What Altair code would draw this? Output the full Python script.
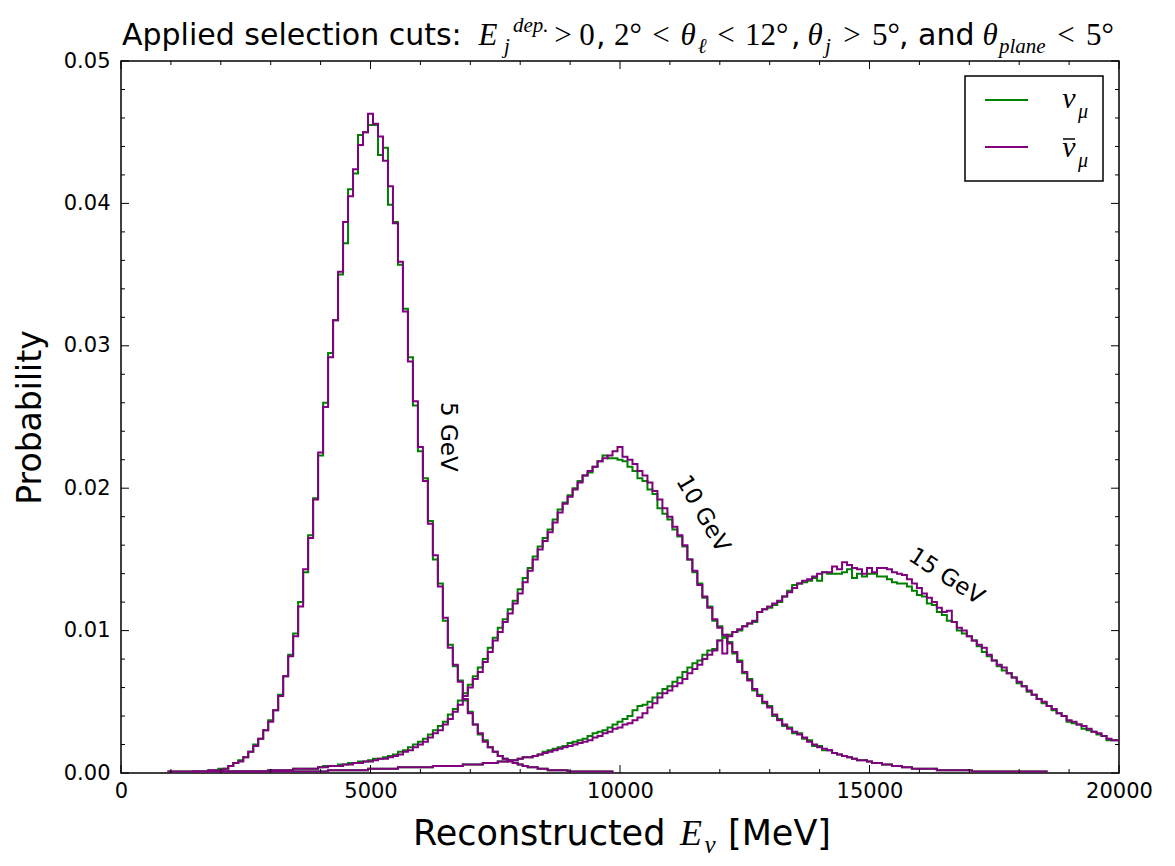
import altair as alt
import pandas as pd

# ---------------- data ----------------
BIN_WIDTH = 100.0          # MeV; bins are centred on multiples of 100 MeV
X_MAX = 20000.0
Y_MAX = 0.05

x_major = [0, 5000, 10000, 15000, 20000]
x_minor = [1000, 2000, 3000, 4000, 6000, 7000, 8000, 9000, 11000, 12000, 13000, 14000,
           16000, 17000, 18000, 19000]
y_major = [0.0, 0.01, 0.02, 0.03, 0.04, 0.05]
y_minor = [0.002, 0.004, 0.006, 0.008, 0.012, 0.014, 0.016, 0.018, 0.022, 0.024, 0.026, 0.028,
           0.032, 0.034, 0.036, 0.038, 0.042, 0.044, 0.046, 0.048]

# 5 GeV sample: first bin centred at 1500 MeV
e5_first_bin = 15
e5_numu = [
    0.0001, 0.0001, 0.0001, 0.0002, 0.0002, 0.0003, 0.0003, 0.0005, 0.0007, 0.0009,
    0.0011, 0.0015, 0.0020, 0.0024, 0.0030, 0.0037, 0.0044, 0.0055, 0.0068, 0.0083,
    0.0098, 0.0120, 0.0141, 0.0167, 0.0193, 0.0223, 0.0260, 0.0295, 0.0318, 0.0350,
    0.0372, 0.0410, 0.0421, 0.0448, 0.0450, 0.0455, 0.0455, 0.0434, 0.0439, 0.0399,
    0.0387, 0.0357, 0.0326, 0.0292, 0.0258, 0.0226, 0.0207, 0.0177, 0.0150, 0.0133,
    0.0107, 0.0090, 0.0075, 0.0065, 0.0051, 0.0043, 0.0034, 0.0027, 0.0023, 0.0018,
    0.0015, 0.0012, 0.0010, 0.0009, 0.0007, 0.0006, 0.0005, 0.0004, 0.0004, 0.0003,
    0.0003, 0.0002, 0.0002, 0.0002, 0.0002, 0.0001, 0.0001, 0.0001, 0.0001, 0.0001,
    0.0001, 0.0001, 0.0001, 0.0001]
e5_numubar = [
    0.0001, 0.0001, 0.0001, 0.0002, 0.0002, 0.0002, 0.0003, 0.0005, 0.0007, 0.0008,
    0.0011, 0.0015, 0.0019, 0.0024, 0.0030, 0.0036, 0.0044, 0.0054, 0.0068, 0.0082,
    0.0096, 0.0117, 0.0143, 0.0165, 0.0192, 0.0225, 0.0257, 0.0292, 0.0318, 0.0352,
    0.0387, 0.0405, 0.0424, 0.0441, 0.0450, 0.0463, 0.0456, 0.0447, 0.0430, 0.0412,
    0.0386, 0.0359, 0.0324, 0.0289, 0.0261, 0.0229, 0.0205, 0.0175, 0.0153, 0.0131,
    0.0109, 0.0088, 0.0076, 0.0064, 0.0052, 0.0042, 0.0034, 0.0028, 0.0022, 0.0018,
    0.0015, 0.0012, 0.0010, 0.0008, 0.0007, 0.0006, 0.0005, 0.0004, 0.0004, 0.0003,
    0.0003, 0.0002, 0.0002, 0.0002, 0.0002, 0.0001, 0.0001, 0.0001, 0.0001, 0.0001,
    0.0001, 0.0001, 0.0001, 0.0001]

# 10 GeV sample: first bin centred at 1000 MeV
e10_first_bin = 10
e10_numu = [
    0.0001, 0.0001, 0.0001, 0.0001, 0.0001, 0.0001, 0.0001, 0.0001, 0.0001, 0.0001,
    0.0001, 0.0001, 0.0001, 0.0001, 0.0001, 0.0001, 0.0001, 0.0001, 0.0001, 0.0001,
    0.0002, 0.0002, 0.0002, 0.0002, 0.0002, 0.0003, 0.0003, 0.0003, 0.0003, 0.0003,
    0.0004, 0.0005, 0.0005, 0.0005, 0.0006, 0.0006, 0.0007, 0.0007, 0.0008, 0.0008,
    0.0009, 0.0010, 0.0010, 0.0011, 0.0012, 0.0013, 0.0015, 0.0016, 0.0018, 0.0020,
    0.0022, 0.0024, 0.0027, 0.0030, 0.0033, 0.0036, 0.0041, 0.0045, 0.0051, 0.0056,
    0.0062, 0.0068, 0.0074, 0.0080, 0.0088, 0.0095, 0.0102, 0.0108, 0.0115, 0.0121,
    0.0129, 0.0137, 0.0144, 0.0152, 0.0159, 0.0165, 0.0171, 0.0178, 0.0185, 0.0190,
    0.0195, 0.0200, 0.0205, 0.0209, 0.0211, 0.0215, 0.0219, 0.0223, 0.0221, 0.0221,
    0.0220, 0.0219, 0.0215, 0.0212, 0.0207, 0.0205, 0.0199, 0.0196, 0.0186, 0.0182,
    0.0178, 0.0171, 0.0166, 0.0159, 0.0150, 0.0141, 0.0133, 0.0123, 0.0117, 0.0107,
    0.0103, 0.0096, 0.0092, 0.0084, 0.0079, 0.0070, 0.0066, 0.0058, 0.0055, 0.0049,
    0.0047, 0.0040, 0.0038, 0.0033, 0.0032, 0.0028, 0.0028, 0.0024, 0.0023, 0.0019,
    0.0019, 0.0016, 0.0016, 0.0014, 0.0013, 0.0012, 0.0011, 0.0010, 0.0009, 0.0009,
    0.0008, 0.0007, 0.0007, 0.0006, 0.0006, 0.0005, 0.0005, 0.0004, 0.0004, 0.0003,
    0.0003, 0.0003, 0.0003, 0.0003, 0.0002, 0.0002, 0.0002, 0.0002, 0.0002, 0.0002,
    0.0002, 0.0001, 0.0001, 0.0001, 0.0001, 0.0001, 0.0001, 0.0001, 0.0001, 0.0001,
    0.0001, 0.0001, 0.0001, 0.0001, 0.0001, 0.0001]
e10_numubar = [
    0.0001, 0.0001, 0.0001, 0.0001, 0.0001, 0.0001, 0.0001, 0.0001, 0.0001, 0.0001,
    0.0001, 0.0001, 0.0001, 0.0001, 0.0001, 0.0001, 0.0001, 0.0001, 0.0001, 0.0001,
    0.0002, 0.0002, 0.0002, 0.0002, 0.0002, 0.0003, 0.0003, 0.0003, 0.0003, 0.0003,
    0.0004, 0.0004, 0.0005, 0.0005, 0.0005, 0.0006, 0.0006, 0.0007, 0.0007, 0.0008,
    0.0008, 0.0009, 0.0010, 0.0010, 0.0011, 0.0012, 0.0013, 0.0015, 0.0016, 0.0018,
    0.0020, 0.0022, 0.0025, 0.0028, 0.0030, 0.0034, 0.0038, 0.0043, 0.0048, 0.0054,
    0.0060, 0.0066, 0.0071, 0.0078, 0.0085, 0.0093, 0.0099, 0.0106, 0.0112, 0.0119,
    0.0126, 0.0134, 0.0142, 0.0150, 0.0157, 0.0163, 0.0169, 0.0176, 0.0183, 0.0189,
    0.0194, 0.0199, 0.0204, 0.0209, 0.0212, 0.0215, 0.0219, 0.0221, 0.0223, 0.0226,
    0.0229, 0.0222, 0.0220, 0.0217, 0.0212, 0.0209, 0.0204, 0.0198, 0.0192, 0.0186,
    0.0180, 0.0173, 0.0167, 0.0160, 0.0150, 0.0142, 0.0132, 0.0124, 0.0116, 0.0108,
    0.0102, 0.0097, 0.0091, 0.0085, 0.0078, 0.0071, 0.0065, 0.0059, 0.0054, 0.0050,
    0.0046, 0.0041, 0.0037, 0.0034, 0.0031, 0.0029, 0.0027, 0.0025, 0.0022, 0.0020,
    0.0018, 0.0017, 0.0016, 0.0014, 0.0013, 0.0012, 0.0011, 0.0010, 0.0009, 0.0009,
    0.0008, 0.0007, 0.0007, 0.0006, 0.0006, 0.0005, 0.0005, 0.0004, 0.0004, 0.0003,
    0.0003, 0.0003, 0.0003, 0.0003, 0.0002, 0.0002, 0.0002, 0.0002, 0.0002, 0.0002,
    0.0002, 0.0001, 0.0001, 0.0001, 0.0001, 0.0001, 0.0001, 0.0001, 0.0001, 0.0001,
    0.0001, 0.0001, 0.0001, 0.0001, 0.0001, 0.0001]

# 15 GeV sample: first bin centred at 2000 MeV, last at 20000 MeV
e15_first_bin = 20
e15_numu = [
    0.0001, 0.0001, 0.0001, 0.0001, 0.0001, 0.0001, 0.0001, 0.0001, 0.0001, 0.0001,
    0.0001, 0.0001, 0.0001, 0.0001, 0.0001, 0.0001, 0.0001, 0.0001, 0.0001, 0.0001,
    0.0001, 0.0001, 0.0002, 0.0002, 0.0002, 0.0002, 0.0002, 0.0002, 0.0002, 0.0002,
    0.0003, 0.0003, 0.0003, 0.0003, 0.0003, 0.0003, 0.0004, 0.0004, 0.0004, 0.0004,
    0.0004, 0.0004, 0.0004, 0.0005, 0.0005, 0.0005, 0.0005, 0.0005, 0.0005, 0.0006,
    0.0006, 0.0006, 0.0006, 0.0007, 0.0007, 0.0007, 0.0008, 0.0008, 0.0009, 0.0009,
    0.0010, 0.0011, 0.0011, 0.0012, 0.0013, 0.0015, 0.0016, 0.0017, 0.0018, 0.0019,
    0.0021, 0.0022, 0.0023, 0.0024, 0.0026, 0.0028, 0.0029, 0.0030, 0.0032, 0.0034,
    0.0036, 0.0038, 0.0040, 0.0044, 0.0047, 0.0048, 0.0050, 0.0053, 0.0056, 0.0059,
    0.0061, 0.0064, 0.0067, 0.0071, 0.0074, 0.0077, 0.0079, 0.0083, 0.0086, 0.0087,
    0.0093, 0.0095, 0.0097, 0.0099, 0.0100, 0.0103, 0.0105, 0.0106, 0.0113, 0.0115,
    0.0116, 0.0118, 0.0120, 0.0124, 0.0128, 0.0132, 0.0133, 0.0134, 0.0135, 0.0137,
    0.0135, 0.0141, 0.0140, 0.0140, 0.0140, 0.0141, 0.0143, 0.0137, 0.0140, 0.0138,
    0.0140, 0.0140, 0.0138, 0.0138, 0.0136, 0.0134, 0.0133, 0.0133, 0.0131, 0.0128,
    0.0125, 0.0124, 0.0119, 0.0118, 0.0113, 0.0111, 0.0107, 0.0106, 0.0100, 0.0098,
    0.0096, 0.0093, 0.0089, 0.0085, 0.0082, 0.0079, 0.0075, 0.0072, 0.0070, 0.0067,
    0.0063, 0.0061, 0.0057, 0.0055, 0.0052, 0.0049, 0.0047, 0.0044, 0.0042, 0.0040,
    0.0036, 0.0035, 0.0034, 0.0031, 0.0030, 0.0029, 0.0027, 0.0026, 0.0023, 0.0023,
    0.0023]
e15_numubar = [
    0.0001, 0.0001, 0.0001, 0.0001, 0.0001, 0.0001, 0.0001, 0.0001, 0.0001, 0.0001,
    0.0001, 0.0001, 0.0001, 0.0001, 0.0001, 0.0001, 0.0001, 0.0001, 0.0001, 0.0001,
    0.0001, 0.0001, 0.0002, 0.0002, 0.0002, 0.0002, 0.0002, 0.0002, 0.0002, 0.0002,
    0.0003, 0.0003, 0.0003, 0.0003, 0.0003, 0.0003, 0.0004, 0.0004, 0.0004, 0.0004,
    0.0004, 0.0004, 0.0004, 0.0005, 0.0005, 0.0005, 0.0005, 0.0005, 0.0005, 0.0006,
    0.0006, 0.0006, 0.0006, 0.0007, 0.0007, 0.0007, 0.0008, 0.0008, 0.0009, 0.0009,
    0.0010, 0.0011, 0.0011, 0.0012, 0.0013, 0.0014, 0.0015, 0.0016, 0.0017, 0.0018,
    0.0019, 0.0020, 0.0021, 0.0022, 0.0023, 0.0025, 0.0026, 0.0028, 0.0029, 0.0031,
    0.0032, 0.0034, 0.0035, 0.0037, 0.0039, 0.0042, 0.0046, 0.0049, 0.0053, 0.0056,
    0.0058, 0.0061, 0.0063, 0.0066, 0.0070, 0.0073, 0.0076, 0.0080, 0.0083, 0.0086,
    0.0093, 0.0084, 0.0096, 0.0099, 0.0101, 0.0103, 0.0105, 0.0107, 0.0113, 0.0115,
    0.0117, 0.0119, 0.0121, 0.0124, 0.0127, 0.0130, 0.0133, 0.0135, 0.0136, 0.0138,
    0.0140, 0.0141, 0.0141, 0.0145, 0.0143, 0.0148, 0.0146, 0.0144, 0.0143, 0.0140,
    0.0144, 0.0141, 0.0144, 0.0144, 0.0143, 0.0141, 0.0140, 0.0139, 0.0136, 0.0133,
    0.0130, 0.0126, 0.0123, 0.0120, 0.0116, 0.0113, 0.0114, 0.0106, 0.0102, 0.0100,
    0.0096, 0.0093, 0.0090, 0.0088, 0.0083, 0.0079, 0.0076, 0.0074, 0.0070, 0.0067,
    0.0064, 0.0061, 0.0058, 0.0055, 0.0052, 0.0050, 0.0047, 0.0045, 0.0042, 0.0040,
    0.0037, 0.0036, 0.0034, 0.0033, 0.0031, 0.0029, 0.0028, 0.0026, 0.0024, 0.0023,
    0.0023]

annot_text = ["5 GeV", "10 GeV", "15 GeV"]
annot_energy = [6550, 11660, 16540]
annot_prob = [0.0236, 0.0182, 0.0138]
annot_angle = [90, 60, 33]

# ---------------- layout / style ----------------
W, H = 998, 712
GREEN = "#008000"
PURPLE = "#800080"
SANS = "DejaVu Sans"
SERIF = "Liberation Serif"


def step_table(values, first_bin, series):
    rows = []
    order = 0
    lo0 = first_bin * BIN_WIDTH - BIN_WIDTH / 2
    rows.append({"E": lo0, "p": 0.0, "series": series, "o": order})
    for i, v in enumerate(values):
        lo = (first_bin + i) * BIN_WIDTH - BIN_WIDTH / 2
        order += 1
        rows.append({"E": lo, "p": v, "series": series, "o": order})
        order += 1
        rows.append({"E": lo + BIN_WIDTH, "p": v, "series": series, "o": order})
    order += 1
    rows.append({"E": rows[-1]["E"], "p": 0.0, "series": series, "o": order})
    return rows


green_df = pd.DataFrame(step_table(e5_numu, e5_first_bin, "5") + step_table(e10_numu, e10_first_bin, "10")
                        + step_table(e15_numu, e15_first_bin, "15"))
purple_df = pd.DataFrame(step_table(e5_numubar, e5_first_bin, "5")
                         + step_table(e10_numubar, e10_first_bin, "10")
                         + step_table(e15_numubar, e15_first_bin, "15"))

xscale = alt.Scale(domain=[0, X_MAX], nice=False, zero=False)
yscale = alt.Scale(domain=[0, Y_MAX], nice=False, zero=False)

xaxis = alt.Axis(values=x_major, format="d", labelFontSize=21, labelColor="black", labelPadding=7,
                 ticks=False, domain=False, grid=False, title=None, labelFlush=False,
                 labelOverlap=False, labelFont=SANS)
yaxis = alt.Axis(values=y_major, format=".2f", labelFontSize=21, labelColor="black", labelPadding=11,
                 ticks=False, domain=False, grid=False, title="Probability", titleFontSize=33,
                 titleFontWeight="normal", titleColor="black", titleFont=SANS, labelFlush=False,
                 labelOverlap=False, labelFont=SANS, titleX=-91, titleY=356, titleAngle=270,
                 titleAlign="center", titleBaseline="middle")


def X():
    return alt.X("E:Q", scale=xscale, axis=xaxis)


def Y():
    return alt.Y("p:Q", scale=yscale, axis=yaxis)


def hist_layer(df, color):
    return alt.Chart(df).mark_line(clip=True, strokeWidth=2, color=color, interpolate="linear").encode(
        x=X(), y=Y(), detail="series:N", order="o:Q")


def x_ticks(vals, length):
    d = pd.DataFrame({"E": vals})
    bottom = alt.Chart(d).mark_rule(color="black", strokeWidth=1).encode(
        x=X(), y=alt.value(H), y2=alt.value(H - length))
    top = alt.Chart(d).mark_rule(color="black", strokeWidth=1).encode(
        x=X(), y=alt.value(0), y2=alt.value(length))
    return [bottom, top]


def y_ticks(vals, length):
    d = pd.DataFrame({"p": vals})
    left = alt.Chart(d).mark_rule(color="black", strokeWidth=1).encode(
        y=Y(), x=alt.value(0), x2=alt.value(length))
    right = alt.Chart(d).mark_rule(color="black", strokeWidth=1).encode(
        y=Y(), x=alt.value(W), x2=alt.value(W - length))
    return [left, right]


one = pd.DataFrame({"k": [0]})


def label(text, x, y, size, font=SANS, style="normal", align="left", baseline="alphabetic"):
    return alt.Chart(one).mark_text(text=text, font=font, fontSize=size, fontStyle=style, align=align,
                                    baseline=baseline, color="black").encode(
        x=alt.value(x), y=alt.value(y))


annot_df = pd.DataFrame({"t": annot_text, "E": annot_energy, "p": annot_prob, "a": annot_angle})
annots = alt.Chart(annot_df).mark_text(fontSize=23, font=SANS, color="black", align="center",
                                       baseline="middle").encode(
    x=X(), y=Y(), text="t:N", angle=alt.Angle("a:Q", scale=None))

# legend drawn by hand
legend_parts = [
    alt.Chart(one).mark_rect(fill="white", stroke="black", strokeWidth=1.5).encode(
        x=alt.value(844), x2=alt.value(982), y=alt.value(15), y2=alt.value(120)),
    alt.Chart(one).mark_rule(color=GREEN, strokeWidth=2).encode(
        x=alt.value(864), x2=alt.value(907), y=alt.value(39)),
    alt.Chart(one).mark_rule(color=PURPLE, strokeWidth=2).encode(
        x=alt.value(864), x2=alt.value(907), y=alt.value(86)),
    label("ν", 948, 38, 30, SERIF, "italic", "center", "middle"),
    label("μ", 962, 51, 20, SERIF, "italic", "center", "middle"),
    label("ν", 948, 87, 30, SERIF, "italic", "center", "middle"),
    alt.Chart(one).mark_rule(color="black", strokeWidth=1.5).encode(
        x=alt.value(942), x2=alt.value(954), y=alt.value(78)),
    label("μ", 962, 100, 20, SERIF, "italic", "center", "middle"),
]

# x-axis title with math subscript
x_title = [
    label("Reconstructed", 292, 784, 35, SANS, "normal", "left"),
    label("E", 570, 784, 36, SERIF, "italic", "center"),
    label("ν", 589, 792, 25, SERIF, "italic", "center"),
    label("[MeV]", 607, 784, 35, SANS, "normal", "left"),
]

# title: text pieces, plain text in sans, math in serif
TB = -16  # baseline of the title (pixels above the plot top)
title_parts = [
    label("Applied selection cuts:", 1, TB, 30, SANS, "normal", "left"),
    label("E", 367, TB, 31, SERIF, "italic", "center"),
    label("j", 386, TB + 8, 21, SERIF, "italic", "center"),
    label("dep.", 392, TB - 13, 21, SERIF, "italic", "left"),
    label(">", 442, TB, 31, SERIF, "normal", "center"),
    label("0", 466, TB, 31, SERIF, "normal", "center"),
    label(",", 475, TB, 30, SANS, "normal", "left"),
    label("2°", 493, TB, 31, SERIF, "normal", "left"),
    label("<", 540, TB, 31, SERIF, "normal", "center"),
    label("θ", 567, TB, 31, SERIF, "italic", "center"),
    label("ℓ", 581, TB + 8, 21, SERIF, "italic", "center"),
    label("<", 605, TB, 31, SERIF, "normal", "center"),
    label("12°", 624, TB, 31, SERIF, "normal", "left"),
    label(",", 670, TB, 30, SANS, "normal", "left"),
    label("θ", 694, TB, 31, SERIF, "italic", "center"),
    label("j", 707, TB + 8, 21, SERIF, "italic", "center"),
    label(">", 731, TB, 31, SERIF, "normal", "center"),
    label("5°", 751, TB, 31, SERIF, "normal", "left"),
    label(", and", 778, TB, 30, SANS, "normal", "left"),
    label("θ", 869, TB, 31, SERIF, "italic", "center"),
    label("plane", 878, TB + 8, 21, SERIF, "italic", "left"),
    label("<", 945, TB, 31, SERIF, "normal", "center"),
    label("5°", 965, TB, 31, SERIF, "normal", "left"),
]

layers = ([hist_layer(green_df, GREEN), hist_layer(purple_df, PURPLE)]
          + x_ticks(x_major, 8) + x_ticks(x_minor, 4) + y_ticks(y_major, 8) + y_ticks(y_minor, 4)
          + [annots] + legend_parts + x_title + title_parts)

chart = alt.layer(*layers).properties(
    width=W, height=H,
    padding={"left": 121, "top": 61, "right": 56, "bottom": 93},
    autosize=alt.AutoSizeParams(type="none"),
    background="white",
).configure(font=SANS).configure_view(stroke="black", strokeWidth=1.5)

chart.save("out.html", embed_options={"renderer": "svg", "actions": False})
